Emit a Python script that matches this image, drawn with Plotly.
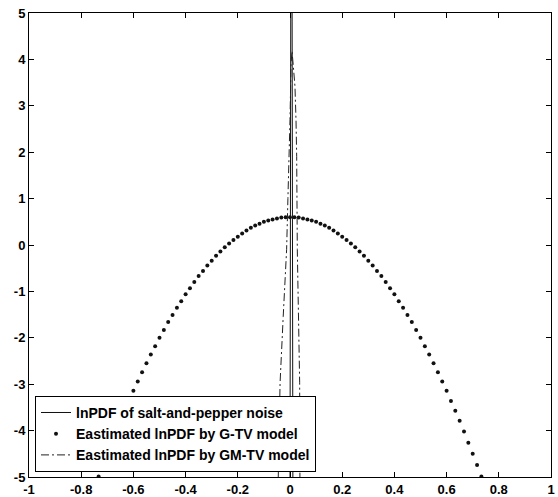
import plotly.graph_objects as go

# lnPDF of salt-and-pepper noise (narrow spike at 0)
sp_x = [0.0, 0.0055, 0.011]
sp_y = [-5.0, 14.0, -5.0]

# Estimated lnPDF by G-TV model (dots)
gtv_x = [-0.7333, -0.7167, -0.7, -0.6833, -0.6667, -0.65, -0.6333, -0.6167, -0.6, -0.5833,
         -0.5667, -0.55, -0.5333, -0.5167, -0.5, -0.4833, -0.4667, -0.45, -0.4333, -0.4167,
         -0.4, -0.3833, -0.3667, -0.35, -0.3333, -0.3167, -0.3, -0.2833, -0.2667, -0.25,
         -0.2333, -0.2167, -0.2, -0.1833, -0.1667, -0.15, -0.1333, -0.1167, -0.1, -0.0833,
         -0.0667, -0.05, -0.0333, -0.0167, 0.0, 0.0167, 0.0333, 0.05, 0.0667, 0.0833,
         0.1, 0.1167, 0.1333, 0.15, 0.1667, 0.1833, 0.2, 0.2167, 0.2333, 0.25,
         0.2667, 0.2833, 0.3, 0.3167, 0.3333, 0.35, 0.3667, 0.3833, 0.4, 0.4167,
         0.4333, 0.45, 0.4667, 0.4833, 0.5, 0.5167, 0.5333, 0.55, 0.5667, 0.5833,
         0.6, 0.6167, 0.6333, 0.65, 0.6667, 0.6833, 0.7, 0.7167, 0.7333]
gtv_y = [-4.99, -4.74, -4.50, -4.26, -4.02, -3.79, -3.57, -3.36, -3.14, -2.94,
         -2.74, -2.55, -2.36, -2.18, -2.00, -1.83, -1.66, -1.51, -1.35, -1.21,
         -1.06, -0.93, -0.80, -0.67, -0.56, -0.44, -0.34, -0.23, -0.14, -0.05,
         0.03, 0.11, 0.18, 0.25, 0.31, 0.37, 0.42, 0.46, 0.50, 0.53,
         0.55, 0.57, 0.59, 0.60, 0.60, 0.60, 0.59, 0.57, 0.55, 0.53,
         0.50, 0.46, 0.42, 0.37, 0.31, 0.25, 0.18, 0.11, 0.03, -0.05,
         -0.14, -0.23, -0.34, -0.44, -0.56, -0.67, -0.80, -0.93, -1.06, -1.21,
         -1.35, -1.51, -1.66, -1.83, -2.00, -2.18, -2.36, -2.55, -2.74, -2.94,
         -3.14, -3.36, -3.57, -3.79, -4.02, -4.26, -4.50, -4.74, -4.99]

# Estimated lnPDF by GM-TV model (dash-dot)
gmtv_x = [-0.045, -0.038, -0.026, -0.013, -0.008, -0.003, 0.000, 0.004, 0.0077,
          0.012, 0.019, 0.023, 0.0256, 0.028, 0.033, 0.037, 0.038]
gmtv_y = [-5.0, -2.97, -1.54, -0.10, 1.0, 1.91, 2.7, 3.9, 4.18,
          3.9, 3.42, 2.70, 1.91, -0.10, -1.54, -2.97, -5.0]

x_ticks = [-1, -0.8, -0.6, -0.4, -0.2, 0, 0.2, 0.4, 0.6, 0.8, 1]
x_tick_text = ["-1", "-0.8", "-0.6", "-0.4", "-0.2", "0", "0.2", "0.4", "0.6", "0.8", "1"]
y_ticks = [-5, -4, -3, -2, -1, 0, 1, 2, 3, 4, 5]
y_tick_text = ["-5", "-4", "-3", "-2", "-1", "0", "1", "2", "3", "4", "5"]

names = ["lnPDF of salt-and-pepper noise",
         "Eastimated lnPDF by G-TV model",
         "Eastimated lnPDF by GM-TV model"]

FONT = "Arial, Liberation Sans"
TICKFONT = dict(family=FONT, size=13, color="black", weight="bold")

fig = go.Figure()
fig.add_trace(go.Scatter(x=sp_x, y=sp_y, mode="lines", name=names[0],
                         line=dict(color="#111111", width=1), legendgroup="a"))
fig.add_trace(go.Scatter(x=gtv_x, y=gtv_y, mode="markers", name=names[1],
                         marker=dict(color="#111111", size=4, symbol="circle"),
                         legendgroup="b"))
fig.add_trace(go.Scatter(x=gmtv_x, y=gmtv_y, mode="lines", name=names[2],
                         line=dict(color="#222222", width=1, dash="8px,3px,2px,3px"),
                         legendgroup="c"))

axis_common = dict(showgrid=False, zeroline=False, showline=True, linecolor="black",
                   linewidth=1, mirror="allticks", ticks="inside", ticklen=5,
                   tickcolor="black", ticklabeloverflow="allow", automargin=False,
                   tickfont=TICKFONT)
fig.update_xaxes(range=[-1, 1], tickvals=x_ticks, ticktext=x_tick_text, **axis_common)
fig.update_yaxes(range=[-5, 5], tickvals=y_ticks, ticktext=y_tick_text, **axis_common)

fig.update_layout(
    width=558, height=497, autosize=False,
    margin=dict(l=29, r=7, t=13, b=20, autoexpand=False),
    paper_bgcolor="white", plot_bgcolor="white",
    font=dict(family=FONT, size=14, color="black"),
    legend=dict(x=0.0115, y=0.011, xanchor="left", yanchor="bottom",
                bgcolor="white", bordercolor="black", borderwidth=1,
                traceorder="grouped", tracegroupgap=0,
                font=dict(family=FONT, size=14, color="black", weight="bold")),
    showlegend=True,
)

fig.write_html("out.html",
               config={"displayModeBar": False},
               post_script="document.body.style.margin='0px';"
                           "document.body.style.overflow='hidden';")
